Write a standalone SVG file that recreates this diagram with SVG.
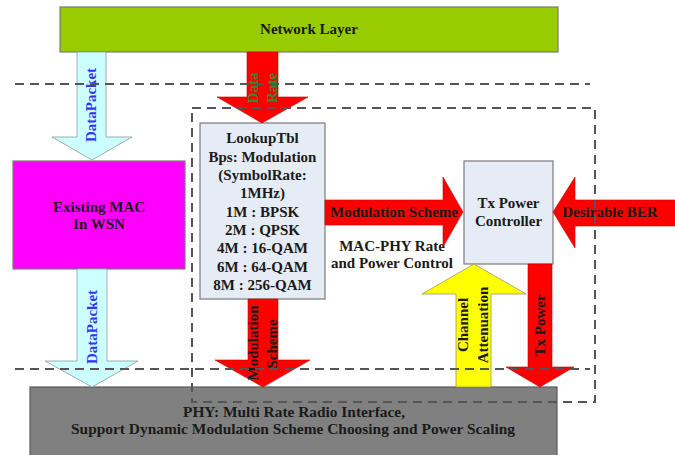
<svg xmlns="http://www.w3.org/2000/svg" width="675" height="455" viewBox="0 0 675 455">
<style>
text{font-weight:bold;font-size:15px;fill:#1a1a1a;text-anchor:middle}
.box{stroke:#7a7a7a;stroke-width:1.2}
.dash{fill:none;stroke:#555;stroke-width:2;stroke-dasharray:9,6}
.cyan{fill:#CCFFFF;stroke:#8a9a9a;stroke-width:0.8}
.red{fill:#FF0000;stroke:#C00000;stroke-width:0.6}
.yel{fill:#FFFF00;stroke:#9a9a60;stroke-width:0.8}
.blue{fill:#3333FF}
.grn{fill:#2E8B2E}
</style>
<rect width="675" height="455" fill="#ffffff"/>
<g font-family="Liberation Serif, Times New Roman, DejaVu Serif, serif">
<g id="network-layer">
<rect class="box" x="60" y="7" width="498" height="45" fill="#99CC00"/>
<text x="309" y="34">Network Layer</text>
</g>
<g id="phy">
<rect x="30" y="387" width="527" height="75" fill="#808080" stroke="#5a5a5a" stroke-width="1.2"/>
<text x="294" y="417" textLength="222" lengthAdjust="spacingAndGlyphs">PHY: Multi Rate Radio Interface,</text>
<text x="293" y="434" textLength="444" lengthAdjust="spacingAndGlyphs">Support Dynamic Modulation Scheme Choosing and Power Scaling</text>
</g>
<g id="existing-mac">
<rect class="box" x="13" y="161" width="172" height="108" fill="#FF00FF"/>
<text x="99" y="212">Existing MAC</text>
<text x="99" y="229">In WSN</text>
</g>
<g id="lookup-table">
<rect class="box" x="200" y="123" width="125" height="176" fill="#E6ECF5"/>
<text x="262.5" y="143">LookupTbl</text>
<text x="262.5" y="161.5">Bps: Modulation</text>
<text x="262.5" y="180">(SymbolRate:</text>
<text x="262.5" y="198">1MHz)</text>
<text x="262.5" y="216.5">1M : BPSK</text>
<text x="262.5" y="235">2M : QPSK</text>
<text x="262.5" y="253">4M : 16-QAM</text>
<text x="262.5" y="271.5">6M : 64-QAM</text>
<text x="262.5" y="290">8M : 256-QAM</text>
</g>
<g id="tx-power-controller">
<rect class="box" x="464" y="161" width="89" height="103" fill="#E6ECF5"/>
<text x="508.5" y="208">Tx Power</text>
<text x="508.5" y="226">Controller</text>
</g>
<g id="mac-phy-label">
<text x="392" y="251" fill="#333">MAC-PHY Rate</text>
<text x="392" y="268" fill="#333">and Power Control</text>
</g>
<g id="connectors">
<polygon class="cyan" points="77,52 106,52 106,137 132,137 92,160 52,137 77,137"/>
<text class="blue" transform="translate(96,105) rotate(-90)" x="0" y="0">DataPacket</text>
<polygon class="cyan" points="77,269 107,269 107,361 138,361 92,387 45,361 77,361"/>
<text class="blue" transform="translate(97,327) rotate(-90)" x="0" y="0">DataPacket</text>
<polygon class="red" points="247,52 278,52 278,97 308,97 262,123 217,97 247,97"/>
<text class="grn" transform="translate(258,88) rotate(-90)" x="0" y="0">Data</text>
<text class="grn" transform="translate(277,88) rotate(-90)" x="0" y="0">Rate</text>
<polygon class="red" points="248,299 278,299 278,360 310,360 263,387 215,360 248,360"/>
<text transform="translate(258,343) rotate(-90)" x="0" y="0">Modulation</text>
<text transform="translate(277,344) rotate(-90)" x="0" y="0">Scheme</text>
<polygon class="red" points="325,200 443,200 443,177 463,212 443,247 443,225 325,225"/>
<text x="394" y="217" fill="#800000">Modulation Scheme</text>
<polygon class="red" points="676,200 575,200 575,177 553,212 575,248 575,226 676,226"/>
<text x="610" y="217" fill="#336600">Desirable BER</text>
<polygon class="yel" points="456,387 491,387 491,294 526,294 474,264 422,294 456,294"/>
<text transform="translate(468,325) rotate(-90)" x="0" y="0" fill="#FF3300">Channel</text>
<text transform="translate(488,325) rotate(-90)" x="0" y="0" fill="#FF3300">Attenuation</text>
<polygon class="red" points="528,264 552,264 552,367 574,367 540,387 506,367 528,367"/>
<text transform="translate(545,325.5) rotate(-90)" x="0" y="0">Tx Power</text>
</g>
<g id="boundaries">
<line class="dash" x1="15" y1="84" x2="590" y2="84"/>
<line class="dash" x1="15" y1="369" x2="590" y2="369"/>
<rect class="dash" x="192" y="108" width="403" height="294"/>
</g>
</g>
</svg>
